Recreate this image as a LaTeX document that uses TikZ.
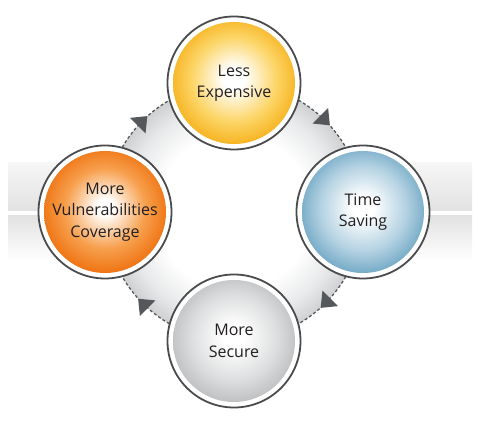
\documentclass[tikz,border=0pt]{standalone}
\usepackage{fontspec}
\setmainfont{Open Sans}
\usetikzlibrary{decorations.markings}
\definecolor{diskgray}{HTML}{CFD0D2}
\definecolor{diskmid}{HTML}{E8E9EA}
\definecolor{bandgray}{HTML}{E2E2E3}
\definecolor{bandlight}{HTML}{F6F6F6}
\definecolor{bordergray}{HTML}{4A4B4D}
\definecolor{flowgray}{HTML}{55585B}
\definecolor{txt}{HTML}{231F20}
\definecolor{yedge}{HTML}{F6B01A}
\definecolor{ymid}{HTML}{FCD566}
\definecolor{oedge}{HTML}{EE6F0C}
\definecolor{omid}{HTML}{F7A04E}
\definecolor{bedge}{HTML}{6EA6C4}
\definecolor{bmid}{HTML}{B4D2E2}
\definecolor{gedge}{HTML}{BCBDBF}
\definecolor{gmid}{HTML}{DDDEDF}
\pgfdeclareradialshading{diskshade}{\pgfpoint{0bp}{0bp}}{color(0bp)=(white); color(15bp)=(white); color(21bp)=(diskmid); color(25bp)=(diskgray); color(50bp)=(diskgray)}
\pgfdeclareradialshading{yshade}{\pgfpoint{0bp}{2bp}}{color(0bp)=(white); color(4bp)=(white); color(16bp)=(ymid); color(25bp)=(yedge); color(50bp)=(yedge)}
\pgfdeclareradialshading{oshade}{\pgfpoint{0bp}{2bp}}{color(0bp)=(white); color(3bp)=(white); color(15bp)=(omid); color(25bp)=(oedge); color(50bp)=(oedge)}
\pgfdeclareradialshading{bshade}{\pgfpoint{0bp}{2bp}}{color(0bp)=(white); color(4bp)=(white); color(16bp)=(bmid); color(25bp)=(bedge); color(50bp)=(bedge)}
\pgfdeclareradialshading{gshade}{\pgfpoint{0bp}{2bp}}{color(0bp)=(white); color(4bp)=(white); color(16bp)=(gmid); color(25bp)=(gedge); color(50bp)=(gedge)}
\tikzset{
  ball/.style={circle, draw=bordergray, line width=1.8pt, fill=white,
    minimum size=133pt, inner sep=0pt, align=center, text=txt,
    font=\fontsize{16}{21.5}\selectfont,
    path picture={\shade[shading=#1] (path picture bounding box.center) circle[radius=61pt];}},
  flow/.style={draw=flowgray, line width=1.3pt, dash pattern=on 3pt off 2.2pt,
    postaction={decorate},
    decoration={markings, mark=at position 0.5 with {\fill[flowgray] (6.5pt,0) -- (-7pt,11pt) -- (-7pt,-11pt) -- cycle;}}}
}
\begin{document}
\begin{tikzpicture}[x=1pt,y=1pt]
\useasboundingbox (0,0) rectangle (479,422);
% band
\shade[top color=bandlight, bottom color=bandgray] (8,259) rectangle (472,211);
\shade[top color=bandgray, bottom color=white] (8,206) rectangle (472,162);
% disk
\coordinate (C) at (234,210);
\shade[shading=diskshade] (C) circle[radius=129];
% centres
\coordinate (ctop) at (234,339);
\coordinate (cright) at (363,210);
\coordinate (cbottom) at (234,81);
\coordinate (cleft) at (105,210);
% flow
\draw[flow] (ctop) to[out=0,in=90] (cright);
\draw[flow] (cright) to[out=-90,in=0] (cbottom);
\draw[flow] (cbottom) to[out=180,in=-90] (cleft);
\draw[flow] (cleft) to[out=90,in=180] (ctop);
% nodes
\node[ball=yshade] (top) at (ctop) {Less\\Expensive};
\node[ball=bshade] (right) at (cright) {Time\\Saving};
\node[ball=gshade] (bottom) at (cbottom) {More\\Secure};
\node[ball=oshade] (left) at (cleft) {More\\Vulnerabilities\\Coverage};
\end{tikzpicture}
\end{document}
